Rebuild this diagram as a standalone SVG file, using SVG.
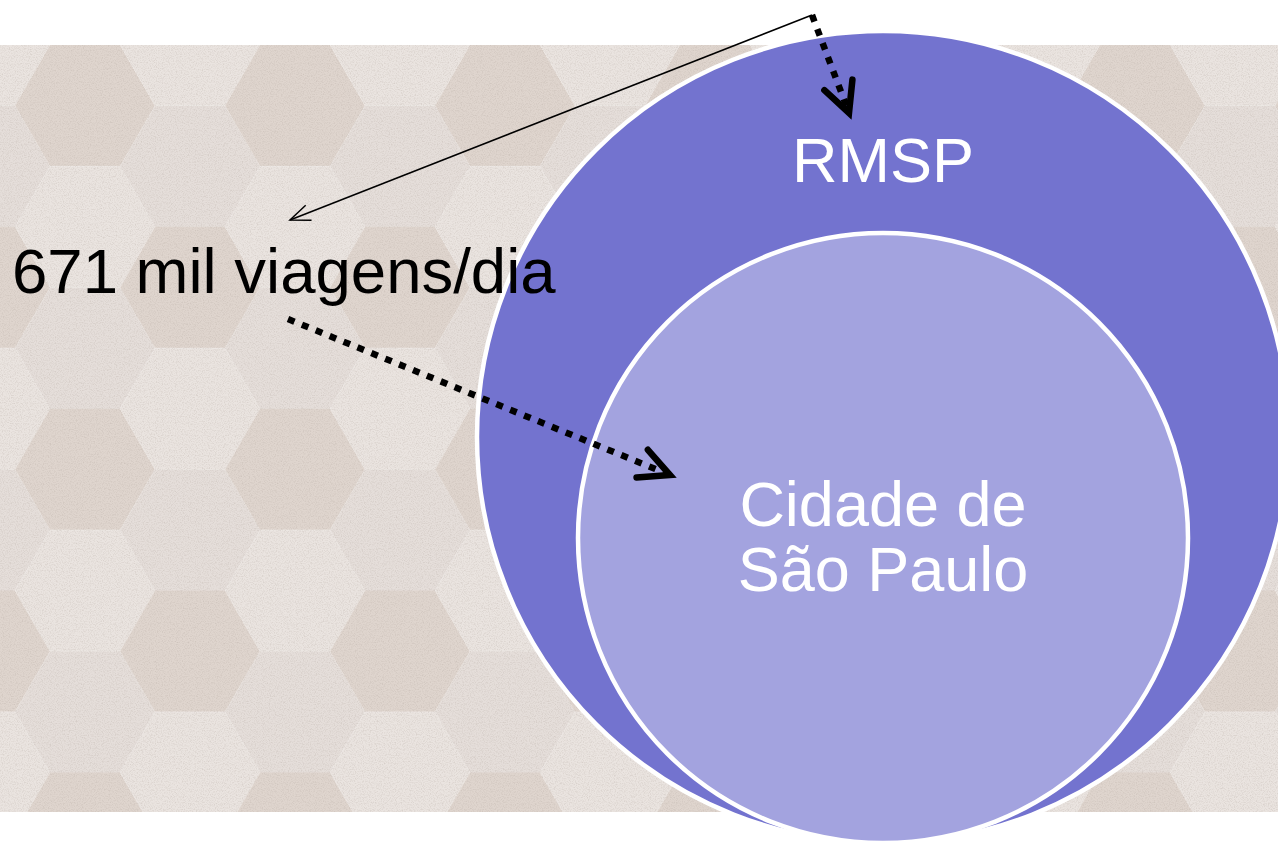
<svg xmlns="http://www.w3.org/2000/svg" xmlns:xlink="http://www.w3.org/1999/xlink" width="1278" height="841" viewBox="0 0 1278 841">
  <style>
    .c0 { fill: #EAE4E0; }
    .c1 { fill: #DFD5CE; }
    .c2 { fill: #E5DEDA; }
    .outer { fill: #7373CF; stroke: #FFFFFF; stroke-width: 4.5; }
    .inner { fill: #A3A3DF; stroke: #FFFFFF; stroke-width: 4.5; }
    .lbl-white { font-family: "Liberation Sans", Arial, sans-serif; font-size: 63px; fill: #FFFFFF; text-anchor: middle; }
    .lbl-black { font-family: "Liberation Sans", Arial, sans-serif; font-size: 63.5px; fill: #000000; }
    .dotted { fill: none; stroke: #000000; stroke-width: 6.5; stroke-dasharray: 7 8; }
    .thin { fill: none; stroke: #000000; stroke-width: 1.5; }
  </style>
  <defs>
    <polygon id="hex" points="-70,0 -35,-60.62 35,-60.62 70,0 35,60.62 -35,60.62"/>
    <pattern id="tiles" patternUnits="userSpaceOnUse" x="-20" y="45" width="210" height="363.73">
      <use xlink:href="#hex" href="#hex" x="0" y="0" class="c0"/>
      <use xlink:href="#hex" href="#hex" x="0" y="121.24" class="c2"/>
      <use xlink:href="#hex" href="#hex" x="0" y="242.49" class="c1"/>
      <use xlink:href="#hex" href="#hex" x="0" y="363.73" class="c0"/>
      <use xlink:href="#hex" href="#hex" x="105" y="-60.62" class="c2"/>
      <use xlink:href="#hex" href="#hex" x="105" y="60.62" class="c1"/>
      <use xlink:href="#hex" href="#hex" x="105" y="181.87" class="c0"/>
      <use xlink:href="#hex" href="#hex" x="105" y="303.11" class="c2"/>
      <use xlink:href="#hex" href="#hex" x="105" y="424.35" class="c1"/>
      <use xlink:href="#hex" href="#hex" x="210" y="0" class="c0"/>
      <use xlink:href="#hex" href="#hex" x="210" y="121.24" class="c2"/>
      <use xlink:href="#hex" href="#hex" x="210" y="242.49" class="c1"/>
      <use xlink:href="#hex" href="#hex" x="210" y="363.73" class="c0"/>
    </pattern>
    <filter id="grain" x="0" y="0" width="100%" height="100%">
      <feTurbulence type="fractalNoise" baseFrequency="0.85" numOctaves="2" seed="7" result="n"/>
      <feColorMatrix in="n" type="matrix" values="0 0 0 0 0.42  0 0 0 0 0.36  0 0 0 0 0.32  0.7 0 0 0 -0.3"/>
    </filter>
    <marker id="vhead" markerUnits="userSpaceOnUse" markerWidth="44" markerHeight="44" viewBox="-36 -22 44 44" refX="0" refY="0" orient="auto">
      <path d="M -30,-15 L 0,0 L -30,15" fill="none" stroke="#000000" stroke-width="6.5" stroke-linecap="round" stroke-linejoin="miter"/>
    </marker>
    <marker id="thinhead" markerUnits="userSpaceOnUse" markerWidth="30" markerHeight="24" viewBox="-24 -12 30 24" refX="0" refY="0" orient="auto">
      <path d="M -20,-8 L 0,0 L -20,8" fill="none" stroke="#000000" stroke-width="1.5"/>
    </marker>
  </defs>

  <rect x="0" y="0" width="1278" height="841" fill="#FFFFFF"/>
  <g id="background">
    <rect x="0" y="45" width="1278" height="767" fill="url(#tiles)"/>
    <rect x="0" y="45" width="1278" height="767" filter="url(#grain)"/>
  </g>

  <g id="node-rmsp">
    <circle class="outer" cx="883" cy="437" r="406"/>
    <text class="lbl-white" x="883" y="182">RMSP</text>
  </g>

  <g id="node-cidade">
    <circle class="inner" cx="883" cy="538" r="305"/>
    <text class="lbl-white" x="883" y="526">Cidade de</text>
    <text class="lbl-white" x="883" y="591">São Paulo</text>
  </g>

  <g id="node-viagens">
    <text class="lbl-black" x="12" y="293">671 mil viagens/dia</text>
  </g>

  <g id="connectors">
    <line class="thin" x1="812" y1="15" x2="290" y2="220" marker-end="url(#thinhead)"/>
    <line class="dotted" x1="812" y1="15" x2="849" y2="113" marker-end="url(#vhead)"/>
    <line class="dotted" x1="288" y1="319" x2="670" y2="475" marker-end="url(#vhead)"/>
  </g>
</svg>
